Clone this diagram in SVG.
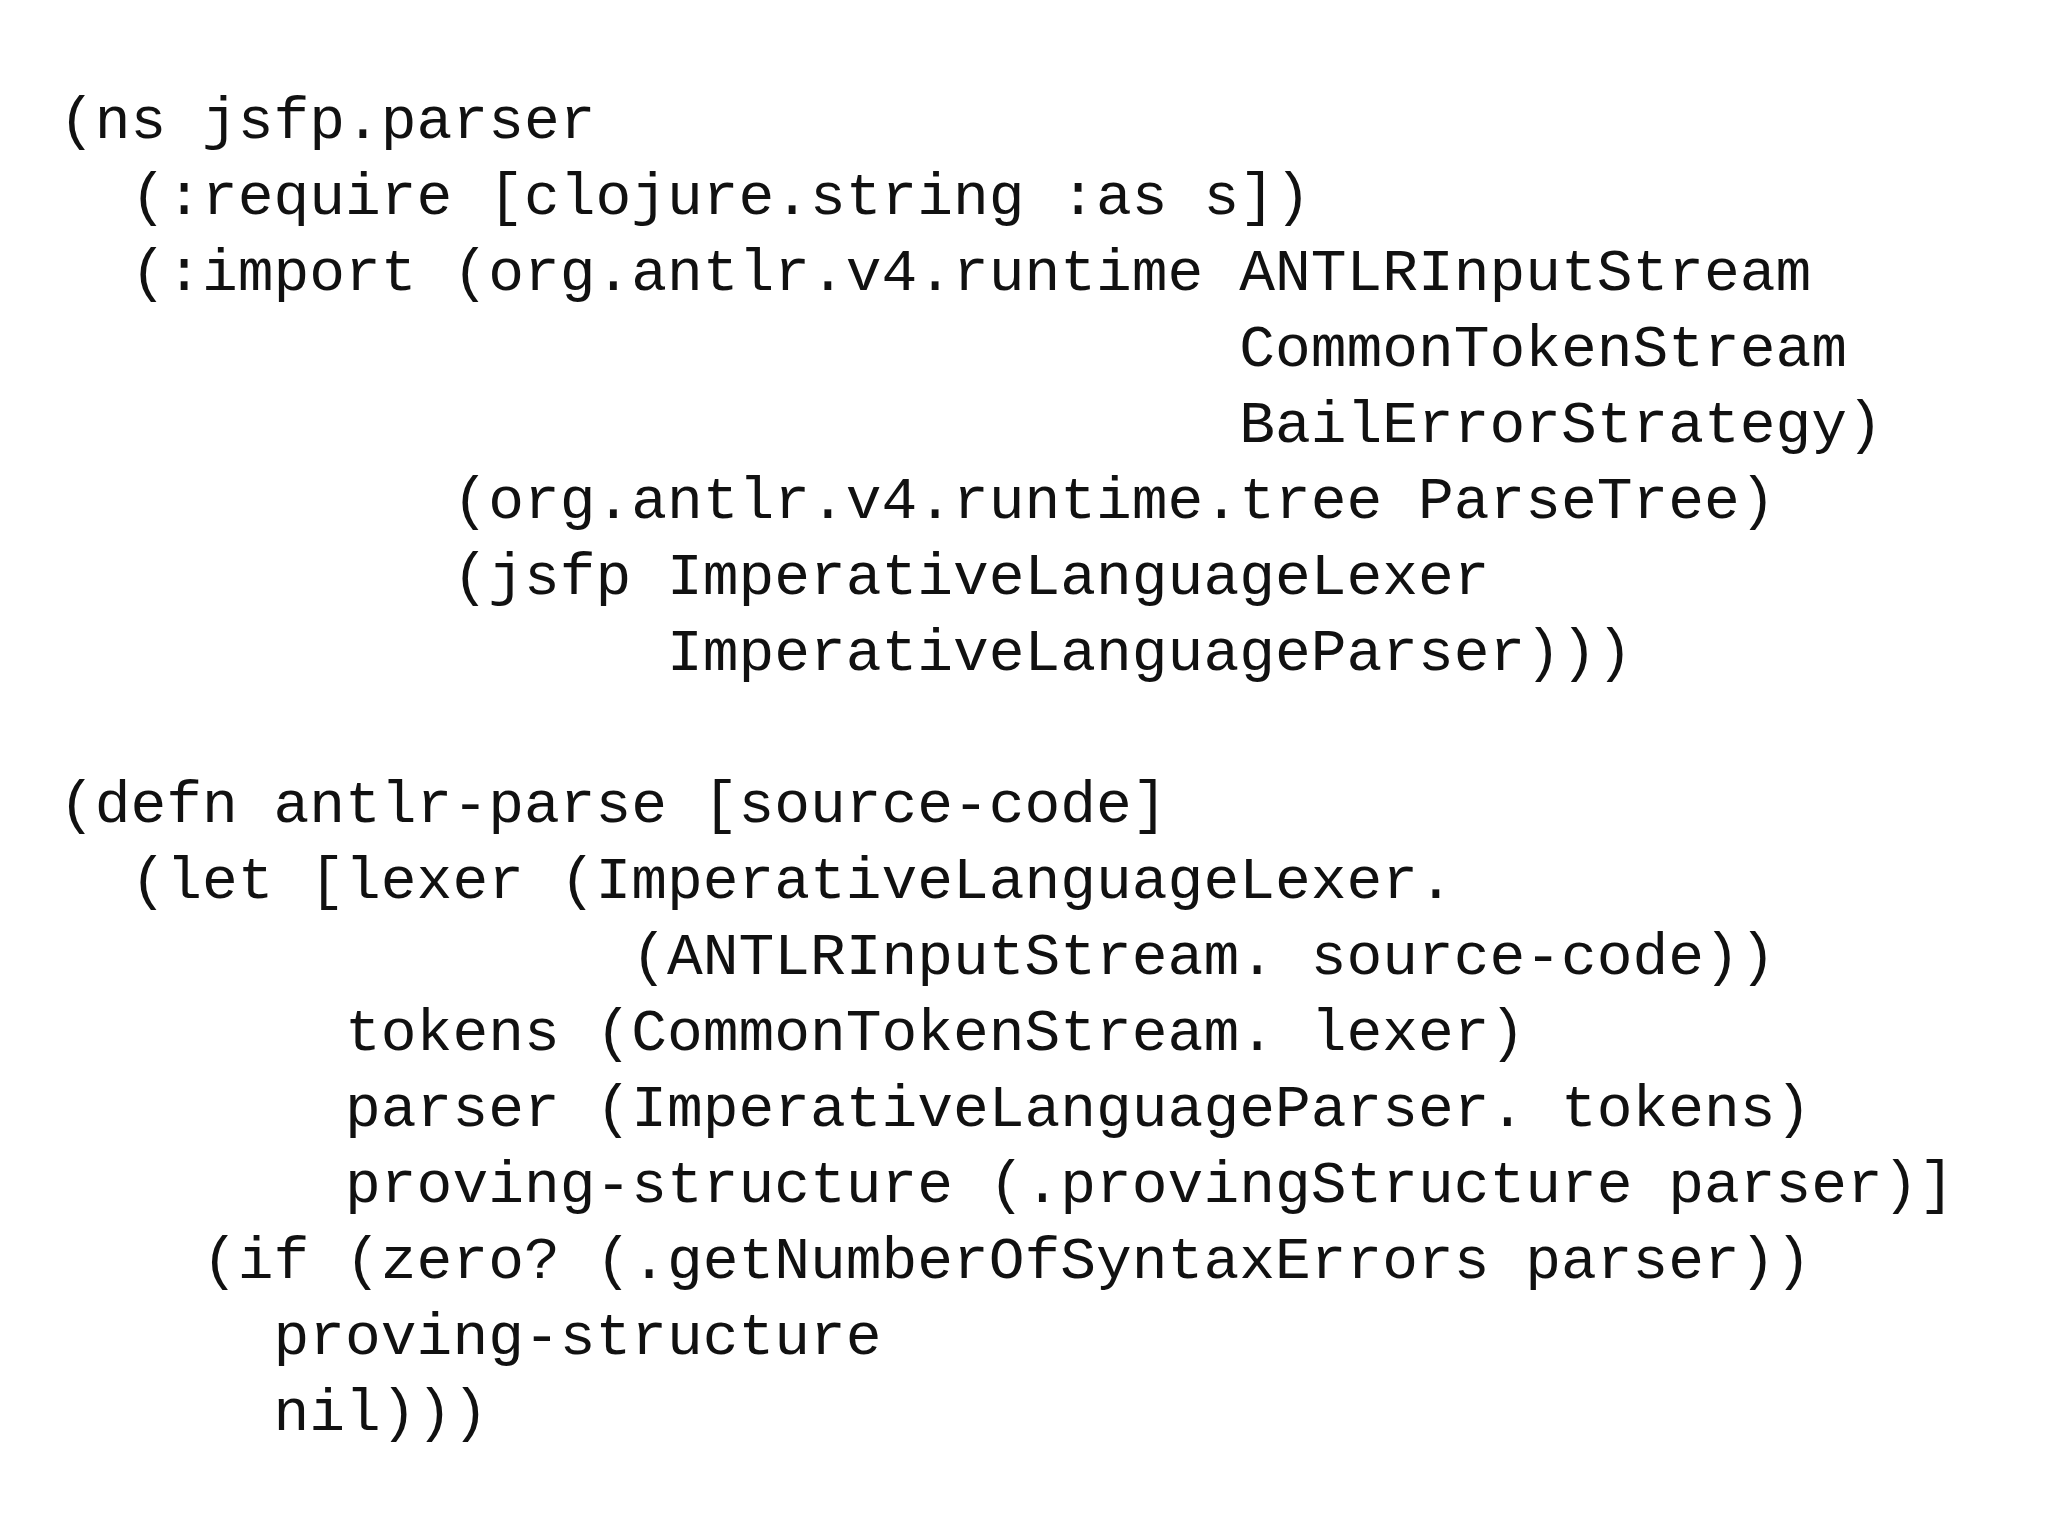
<svg xmlns="http://www.w3.org/2000/svg" width="2048" height="1536" viewBox="0 0 2048 1536">
<style>
text{font-family:"Liberation Mono","DejaVu Sans Mono",monospace;font-size:59.6px;fill:#111;white-space:pre}
</style>
<rect width="2048" height="1536" fill="#fff"/>
<g id="code" xml:space="preserve">
<text x="59" y="138">(ns jsfp.parser</text>
<text x="59" y="214">  (:require [clojure.string :as s])</text>
<text x="59" y="290">  (:import (org.antlr.v4.runtime ANTLRInputStream</text>
<text x="59" y="366">                                 CommonTokenStream</text>
<text x="59" y="442">                                 BailErrorStrategy)</text>
<text x="59" y="518">           (org.antlr.v4.runtime.tree ParseTree)</text>
<text x="59" y="594">           (jsfp ImperativeLanguageLexer</text>
<text x="59" y="670">                 ImperativeLanguageParser)))</text>
<text x="59" y="822">(defn antlr-parse [source-code]</text>
<text x="59" y="898">  (let [lexer (ImperativeLanguageLexer.</text>
<text x="59" y="974">                (ANTLRInputStream. source-code))</text>
<text x="59" y="1050">        tokens (CommonTokenStream. lexer)</text>
<text x="59" y="1126">        parser (ImperativeLanguageParser. tokens)</text>
<text x="59" y="1202">        proving-structure (.provingStructure parser)]</text>
<text x="59" y="1278">    (if (zero? (.getNumberOfSyntaxErrors parser))</text>
<text x="59" y="1354">      proving-structure</text>
<text x="59" y="1430">      nil)))</text>
</g>
</svg>
